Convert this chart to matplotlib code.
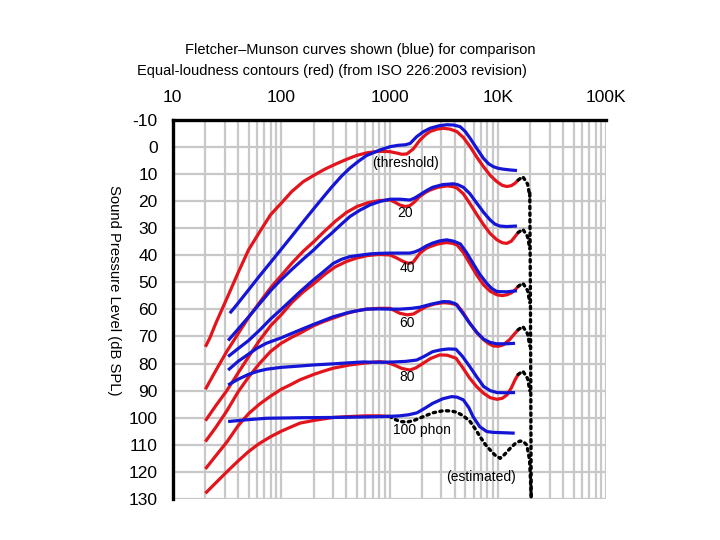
import matplotlib
matplotlib.use("Agg")
import matplotlib.pyplot as plt
from matplotlib.ticker import FixedLocator, NullFormatter

plt.rcParams['font.family'] = ['Liberation Sans', 'DejaVu Sans']
plt.rcParams['axes.unicode_minus'] = False

RED = '#e3141c'
BLUE = '#1515d6'
GRID = '#c8c8c8'

# ISO 226:2003 contours (red): (Hz, dB SPL)
red_thr_f = [20, 22, 25, 31.5, 40, 50, 63, 80, 100, 125, 160, 200, 250, 315, 400, 500, 630, 800, 1000,
             1150, 1300, 1442, 1650, 1915, 2150, 2367, 2750, 3143, 3600, 4175, 4800, 5544, 6400, 7361,
             8500, 9774, 11000, 12100, 13300, 14400, 15400]
red_thr_db = [73.8, 70.5, 65, 56, 46.5, 38, 31.5, 25, 20.8, 16.5, 12.8, 10.5, 8.3, 6.4, 4.6, 3.1, 2.1,
              1.6, 1.7, 2.2, 2.7, 2.6, 0.8, -2.6, -4.5, -5.7, -6.6, -6.9, -6.6, -5.7, -3.5, -0.1, 3.8,
              7.3, 10.5, 12.8, 14.2, 14.6, 14.3, 13.4, 12.2]

red_20_f = [20, 25, 31.5, 40, 50, 63, 80, 100, 125, 160, 200, 250, 315, 400, 500, 630, 800, 1012, 1120,
            1240, 1400, 1540, 1700, 1900, 2150, 2370, 2800, 3370, 3800, 4200, 4800, 5500, 6400, 7400,
            8500, 9800, 11000, 12100, 13300, 14400, 15400]
red_20_db = [89.5, 82.5, 75.5, 69, 63, 57.5, 52, 47.5, 43, 38.5, 35, 31.2, 27.5, 24.2, 22.0, 20.6, 19.8,
             19.6, 20.4, 21.4, 22.0, 21.7, 20.3, 18.3, 16.8, 15.9, 14.9, 14.4, 14.6, 15.2, 17.3, 20.8,
             25.0, 28.8, 32.0, 34.3, 35.4, 35.6, 34.8, 33.1, 31.6]

red_40_f = [20, 25, 31.5, 40, 50, 63, 80, 100, 125, 160, 200, 250, 315, 400, 500, 630, 800, 1012, 1150,
            1340, 1500, 1650, 1900, 2150, 2370, 2800, 3370, 3800, 4200, 4800, 5500, 6400, 7400, 8500,
            9800, 11000, 12100, 13300, 14400, 15400]
red_40_db = [101.1, 95.5, 90, 83.5, 77.5, 71.5, 66, 62, 57.5, 53.5, 50.5, 47.2, 44.3, 42.3, 41.0, 40.1,
             39.7, 39.9, 40.9, 42.3, 43.0, 42.6, 39.3, 37.6, 36.8, 35.8, 35.3, 35.6, 36.2, 39.0, 43.0,
             47.4, 51.0, 53.3, 54.6, 54.9, 54.6, 53.9, 52.8, 51.5]

red_60_f = [20, 25, 31.5, 40, 50, 63, 80, 100, 125, 149, 200, 250, 303, 400, 500, 612, 800, 1012, 1120,
            1240, 1450, 1660, 1900, 2200, 2600, 3140, 3600, 4200, 4800, 5500, 6400, 7400, 8200, 9100,
            10100, 11200, 12800, 14400, 15400]
red_60_db = [108.8, 103.5, 97.5, 90.5, 85, 80, 75.5, 72.5, 70.3, 68.8, 66, 64.4, 63.2, 61.5, 60.5, 59.9,
             59.6, 59.6, 60.5, 61.4, 62.0, 61.7, 60.3, 58.9, 58.0, 57.5, 57.7, 58.3, 61.3, 65.1, 68.6,
             71.2, 72.6, 73.5, 73.6, 73.1, 71.2, 68.8, 67.5]

red_80_f = [20, 25, 31.5, 40, 50, 63, 80, 100, 125, 149, 200, 250, 303, 431, 570, 700, 817, 950, 1100,
            1300, 1540, 1750, 2040, 2400, 2900, 3400, 4100, 4700, 5500, 6400, 7400, 8500, 9800, 11000,
            12100, 13300, 14400, 15400]
red_80_db = [118.9, 114, 109, 103, 98.5, 95, 92, 89.5, 87.6, 86, 84, 82.7, 81.7, 80.5, 79.9, 79.5, 79.3,
             79.6, 80.5, 81.8, 82.4, 81.6, 79.9, 78.1, 76.8, 76.9, 78.0, 81.3, 85.4, 88.6, 91.0, 92.6,
             93.2, 92.8, 91.6, 89.0, 86.0, 84.0]

red_100_f = [20, 25, 31.5, 40, 50, 63, 80, 100, 125, 149, 200, 303, 400, 612, 800, 1000]
red_100_db = [127.9, 124, 120, 116, 112.5, 109.5, 107, 105, 103.3, 102, 101, 99.9, 99.6, 99.3, 99.3, 99.5]

# Fletcher-Munson curves (blue)
blue_thr_f = [33.6, 40, 50, 63, 80, 100, 125, 160, 200, 250, 290, 360, 431, 520, 612, 817, 1012, 1200,
              1400, 1550, 1781, 2050, 2367, 2850, 3373, 3900, 4477, 5000, 5544, 6400, 7361, 8200, 9100,
              10100, 11200, 13000, 15000]
blue_thr_db = [61.4, 57.7, 52.8, 47.7, 42.6, 37.8, 33.0, 27.6, 22.8, 18.1, 15.0, 10.8, 7.8, 5.2, 3.2, 1.1,
               -0.1, -0.6, -0.8, -1.3, -3.8, -5.6, -6.9, -7.8, -8.2, -8.1, -7.5, -5.7, -3.2, 0.6, 4.2,
               6.2, 7.3, 7.9, 8.2, 8.5, 8.7]

blue_20_f = [32.4, 40, 50, 63, 81, 100, 125, 160, 200, 250, 290, 360, 431, 530, 661, 820, 1012, 1250,
             1540, 1700, 1900, 2200, 2500, 3100, 3900, 4300, 4800, 5500, 6400, 7400, 8500, 9400, 10400,
             12000, 15000]
blue_20_db = [71.5, 67.3, 62.8, 58.0, 52.8, 49.0, 45.3, 41.4, 38.0, 34.2, 32.0, 28.5, 25.7, 23.4, 21.4,
              20.1, 19.3, 19.3, 19.6, 18.9, 17.7, 16.1, 14.9, 13.9, 13.6, 14.0, 14.9, 17.2, 20.8, 24.2,
              27.0, 28.5, 29.2, 29.4, 29.2]

blue_40_f = [32.4, 40, 50, 63.5, 80, 100, 149, 200, 250, 303, 360, 431, 530, 661, 800, 1012, 1300, 1540,
             1700, 1900, 2200, 2500, 2900, 3370, 3900, 4500, 5100, 5900, 6800, 7900, 8800, 9800, 12000,
             15000]
blue_40_db = [77.4, 74.5, 71.5, 67.6, 63.5, 60, 53.5, 49, 45.8, 43.0, 41.5, 40.5, 40.0, 39.5, 39.3, 39.2,
              39.2, 39.2, 38.8, 38.0, 36.5, 35.5, 34.7, 34.3, 34.8, 35.8, 38.8, 43.0, 47.0, 50.4, 52.3,
              53.4, 53.5, 53.1]

blue_60_f = [32.4, 40, 50, 60, 73, 100, 149, 200, 250, 303, 431, 612, 800, 1012, 1240, 1600, 1900, 2400,
             3140, 3600, 4100, 4700, 5500, 6400, 7400, 8500, 9800, 12000, 14400]
blue_60_db = [82.4, 79.2, 76.5, 74.3, 72.5, 70.5, 67.6, 65.5, 64, 62.7, 61, 59.9, 59.8, 59.9, 59.9, 59.6,
              59.2, 58.1, 57.1, 57.2, 58.0, 61.2, 65.1, 68.5, 71.0, 72.2, 72.7, 72.7, 72.5]

blue_80_f = [32.4, 40, 50, 60, 73, 100, 149, 200, 303, 430, 570, 708, 900, 1100, 1400, 1780, 2100, 2500,
             3000, 3500, 4100, 4700, 5500, 6400, 7400, 8500, 9800, 12000, 14400]
blue_80_db = [87.9, 85.8, 84, 82.9, 82.1, 81.4, 80.9, 80.5, 80.1, 79.7, 79.4, 79.5, 79.5, 79.4, 79.2,
              78.7, 77.3, 75.6, 74.9, 74.6, 74.7, 77.3, 81.1, 85.0, 88.5, 90.0, 90.7, 90.8, 90.7]

blue_100_f = [32.4, 50, 73, 150, 303, 600, 1000, 1240, 1500, 1790, 2100, 2500, 3100, 3740, 4200, 4800,
              5400, 5900, 6800, 7900, 9000, 10500, 14300]
blue_100_db = [101.4, 100.7, 100.2, 100.0, 99.9, 99.7, 99.5, 99.3, 98.9, 98.2, 96.6, 94.7, 93.0, 92.2,
               92.4, 93.4, 96.3, 99.6, 103.3, 105.1, 105.4, 105.5, 105.7]

# estimated parts (black dotted)
est_100_f = [1000, 1120, 1250, 1450, 1660, 2050, 2500, 3140, 3700, 4180, 4800, 5540, 6200, 6850, 7600,
             8480, 9400, 10500, 11500, 13000, 14500, 16000, 17300, 18500, 19600, 20000, 20300]
est_100_db = [99.5, 100.6, 101.4, 101.6, 101.1, 99.6, 98.2, 97.4, 97.5, 98.0, 99.3, 101.4, 104.2, 107.0,
              109.7, 111.9, 113.8, 115.0, 113.6, 111.3, 109.5, 108.6, 108.9, 110.1, 115.6, 123, 129.2]

est_edge_f = [19700, 20000, 20300]
est_edge_db = [17, 60, 130]

tail_f = [15400, 17000, 18800, 19700]
tail_thr_db = [12.2, 11.0, 13.7, 18.2]
tail_20_db = [31.6, 30.4, 33.1, 37.6]
tail_40_db = [51.5, 50.3, 53.0, 57.5]
tail_60_db = [67.5, 66.3, 69.0, 73.5]
tail_80_db = [84.0, 82.8, 85.5, 90.0]

x_ticks = [10, 100, 1000, 10000, 100000]
x_labels = ['10', '100', '1000', '10K', '100K']
y_ticks = list(range(-10, 131, 10))

curve_labels = ['(threshold)', '20', '40', '60', '80', '100 phon', '(estimated)']
label_f = [1390, 1390, 1450, 1450, 1450, 2000, 7000]
label_db = [5.9, 24.4, 44.7, 65.0, 84.9, 104.5, 121.9]

fig = plt.figure(figsize=(7.2, 5.4), dpi=100)
ax = fig.add_axes([0.240, 0.076, 0.602, 0.702])

ax.set_xscale('log')
ax.set_xlim(10, 100000)
ax.set_ylim(130, -10)

minor = [m * 10 ** e for e in range(1, 5) for m in range(2, 10)]
ax.xaxis.set_major_locator(FixedLocator(x_ticks))
ax.xaxis.set_minor_locator(FixedLocator(minor))
ax.xaxis.set_minor_formatter(NullFormatter())
ax.set_xticklabels(x_labels)
ax.set_yticks(y_ticks)
ax.xaxis.tick_top()
ax.tick_params(axis='both', which='both', length=0, labelsize=12.5, pad=11)
ax.grid(True, which='both', axis='x', color=GRID, lw=1.6)
ax.grid(True, which='major', axis='y', color=GRID, lw=1.6)

for side in ('bottom', 'right'):
    ax.spines[side].set_visible(False)
for side in ('left', 'top'):
    ax.spines[side].set_linewidth(2.4)
    ax.spines[side].set_color('black')
    ax.spines[side].set_zorder(5)

lw = 2.3
for f, db in [(red_thr_f, red_thr_db), (red_20_f, red_20_db), (red_40_f, red_40_db),
              (red_60_f, red_60_db), (red_80_f, red_80_db), (red_100_f, red_100_db)]:
    ax.plot(f, db, color=RED, lw=lw, solid_capstyle='butt', solid_joinstyle='round', zorder=3)

for f, db in [(blue_thr_f, blue_thr_db), (blue_20_f, blue_20_db), (blue_40_f, blue_40_db),
              (blue_60_f, blue_60_db), (blue_80_f, blue_80_db), (blue_100_f, blue_100_db)]:
    ax.plot(f, db, color=BLUE, lw=lw, solid_capstyle='butt', solid_joinstyle='round', zorder=4)

dot = dict(color='black', lw=2.4, ls=(0, (0.7, 1.3)), dash_capstyle='round', zorder=3)
ax.plot(est_100_f, est_100_db, **dot)
ax.plot(est_edge_f, est_edge_db, **dot)
for db in (tail_thr_db, tail_20_db, tail_40_db, tail_60_db, tail_80_db):
    ax.plot(tail_f, db, **dot)

for txt, f, db in zip(curve_labels, label_f, label_db):
    ax.text(f, db, txt, ha='center', va='center', fontsize=10, zorder=6)

ax.set_ylabel('Sound Pressure Level (dB SPL)', fontsize=10.7, rotation=270, labelpad=14)
ax.yaxis.set_label_coords(-0.151, 0.55)

fig.text(0.501, 0.907, 'Fletcher\u2013Munson curves shown (blue) for comparison',
         ha='center', va='center', fontsize=10.5)
fig.text(0.461, 0.869, 'Equal-loudness contours (red) (from ISO 226:2003 revision)',
         ha='center', va='center', fontsize=10.5)

fig.savefig('out.png', dpi=100)
